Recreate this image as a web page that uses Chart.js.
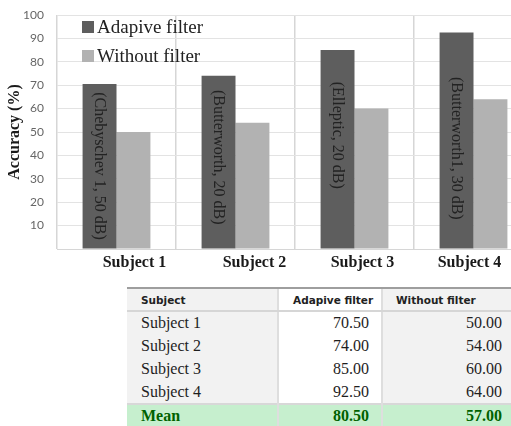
<!DOCTYPE html>
<html>
<head>
<meta charset="utf-8">
<script src="https://cdn.jsdelivr.net/npm/chart.js@4.4.1/dist/chart.umd.min.js"></script>
<style>
  html, body { margin: 0; padding: 0; background: #fff; width: 511px; height: 426px; overflow: hidden; }
  #wrap { position: absolute; left: 0; top: 0; width: 540px; height: 280px; }
  #tbl { position: absolute; left: 127px; top: 287px; width: 384px; border-collapse: collapse; table-layout: fixed; }
  #tbl th { font: bold 10.5px "DejaVu Sans", sans-serif; color: #222; text-align: left; height: 21px; padding: 0 0 0 14px;
            border-top: 2px solid #9e9e9e; border-bottom: 2px solid #d6d6d6; }
  #tbl td { font: 16px "Liberation Serif", serif; color: #1e1e1e; height: 22.75px; padding: 0; line-height: 16px; }
  #tbl td.name { padding-left: 14px; }
  #tbl td.num { text-align: right; }
  #tbl .c1 { background: #f2f2f2; }
  #tbl .c2 { background: #fff; border-left: 2px solid #dedede; }
  #tbl .c3 { background: #f2f2f2; border-left: 2px solid #dedede; }
  #tbl th.c3 { padding-left: 13px; }
  #tbl td.c2.num { padding-right: 12px; }
  #tbl td.c3.num { padding-right: 9px; }
  #tbl tr.mean td { background: #c6efce; color: #006100; font-weight: bold; height: 22px; border-top: 2px solid #d8d8d8; }
</style>
</head>
<body>
<div id="wrap"><canvas id="chart" width="540" height="280"></canvas></div>
<table id="tbl">
  <colgroup><col style="width:151px"><col style="width:104px"><col style="width:129px"></colgroup>
  <thead><tr id="head"></tr></thead>
  <tbody id="body"></tbody>
</table>
<script>
// data
const subjects = ['Subject 1', 'Subject 2', 'Subject 3', 'Subject 4'];
const adaptive = [70.5, 74, 85, 92.5];
const withoutFilter = [50, 54, 60, 64];
const filterNames = ['(Chebyschev 1, 50 dB)', '(Butterworth, 20 dB)', '(Elleptic, 20 dB)', '(Butterworth1, 30 dB)'];
const seriesNames = ['Adapive filter', 'Without filter'];
const tableHeader = ['Subject', 'Adapive filter', 'Without filter'];
const meanLabel = 'Mean';
const meanValues = [80.50, 57.00];

// where each rotated filter name starts (axis units) and how far each category label sits off centre (px)
const noteStart = [67, 68, 71.5, 73.5];
const labelShift = [18, 19, 8, -4];

// rotated text inside the dark bars
const barNotes = {
  id: 'barNotes',
  afterDatasetsDraw(chart) {
    const ctx = chart.ctx;
    const meta = chart.getDatasetMeta(0);
    const y = chart.scales.y;
    ctx.save();
    ctx.font = '16px "Liberation Serif"';
    ctx.fillStyle = '#222';
    ctx.textAlign = 'left';
    ctx.textBaseline = 'middle';
    meta.data.forEach((bar, i) => {
      ctx.save();
      ctx.translate(bar.x, y.getPixelForValue(noteStart[i]));
      ctx.rotate(Math.PI / 2);
      ctx.fillText(filterNames[i], 0, 0);
      ctx.restore();
    });
    ctx.restore();
  }
};

// category labels, nudged like the text boxes in the original
const subjectLabels = {
  id: 'subjectLabels',
  afterDraw(chart) {
    const ctx = chart.ctx;
    const x = chart.scales.x;
    ctx.save();
    ctx.font = 'bold 16px "Liberation Serif"';
    ctx.fillStyle = '#1a1a1a';
    ctx.textAlign = 'center';
    ctx.textBaseline = 'middle';
    subjects.forEach((s, i) => {
      ctx.fillText(s, x.getPixelForValue(i) + labelShift[i], chart.chartArea.bottom + 14);
    });
    ctx.restore();
  }
};

// legend sits inside the plot, top left (grid shows through it)
const innerLegend = {
  id: 'innerLegend',
  afterDraw(chart) {
    const ctx = chart.ctx;
    const area = chart.chartArea;
    const x = area.left + 25;
    ctx.save();
    ctx.font = '19px "Liberation Serif"';
    ctx.textBaseline = 'middle';
    chart.data.datasets.forEach((ds, i) => {
      const cy = area.top + 12 + i * 29;
      ctx.fillStyle = ds.backgroundColor;
      ctx.fillRect(x, cy - 6, 12, 12);
      ctx.fillStyle = '#222';
      ctx.fillText(ds.label, x + 15, cy + 1);
    });
    ctx.restore();
  }
};

new Chart(document.getElementById('chart'), {
  type: 'bar',
  data: {
    labels: subjects,
    datasets: [
      { label: seriesNames[0], data: adaptive, backgroundColor: '#5e5e5e' },
      { label: seriesNames[1], data: withoutFilter, backgroundColor: '#b2b2b2' }
    ]
  },
  options: {
    responsive: false,
    devicePixelRatio: 1,
    animation: false,
    layout: { padding: { top: 15, left: 0, right: 7, bottom: 0 } },
    datasets: { bar: { categoryPercentage: 0.57, barPercentage: 1 } },
    plugins: {
      legend: { display: false },
      tooltip: { enabled: false }
    },
    scales: {
      x: {
        grid: { color: '#d6d6d6', lineWidth: 1.5, drawTicks: false },
        border: { color: '#d6d6d6' },
        ticks: { display: false },
        afterFit(scale) { scale.height = 31; }
      },
      y: {
        min: 0,
        max: 100,
        grid: { color: '#e3e3e3', drawTicks: false },
        border: { display: false },
        ticks: {
          stepSize: 10,
          font: { family: 'Lato', size: 12 },
          color: '#666',
          padding: 13,
          callback: v => v === 0 ? '' : v
        },
        title: {
          display: true,
          text: 'Accuracy (%)',
          font: { family: '"Liberation Serif"', size: 16, weight: 'bold' },
          color: '#1a1a1a',
          padding: { top: 5, bottom: 0 }
        },
        afterFit(scale) {
          scale.width = 57;
          scale.paddingTop = 0;
          scale.paddingBottom = 0;
        }
      }
    }
  },
  plugins: [barNotes, subjectLabels, innerLegend]
});

// table under the chart
const head = document.getElementById('head');
tableHeader.forEach((h, i) => {
  const th = document.createElement('th');
  th.className = 'c' + (i + 1);
  th.textContent = h;
  head.appendChild(th);
});
const body = document.getElementById('body');
subjects.forEach((s, i) => {
  const tr = document.createElement('tr');
  tr.innerHTML = `<td class="c1 name">${s}</td><td class="c2 num">${adaptive[i].toFixed(2)}</td><td class="c3 num">${withoutFilter[i].toFixed(2)}</td>`;
  body.appendChild(tr);
});
const mean = document.createElement('tr');
mean.className = 'mean';
mean.innerHTML = `<td class="c1 name">${meanLabel}</td><td class="c2 num">${meanValues[0].toFixed(2)}</td><td class="c3 num">${meanValues[1].toFixed(2)}</td>`;
body.appendChild(mean);
</script>
</body>
</html>
